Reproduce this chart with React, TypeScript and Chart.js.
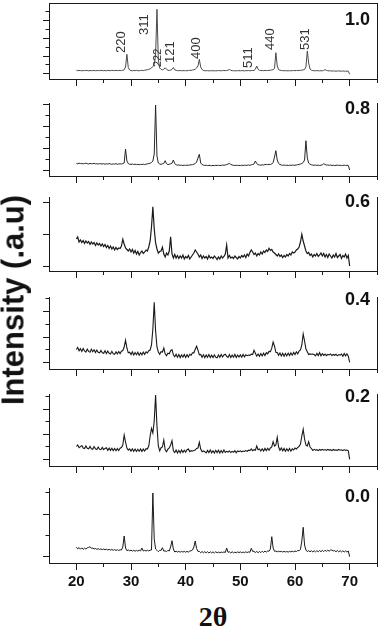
import React, { useEffect, useRef } from "react";
import { Chart, registerables } from "chart.js";

Chart.register(...registerables);

// ---------- categories: 2θ grid (degrees) ----------
const twoTheta: number[] = [
  20, 20.25, 20.5, 20.75, 21, 21.25, 21.5, 21.75, 22, 22.25, 22.5, 22.75, 23, 23.25, 23.5, 23.75, 24, 24.25, 24.5, 24.75,
  25, 25.25, 25.5, 25.75, 26, 26.25, 26.5, 26.75, 27, 27.25, 27.5, 27.75, 28, 28.25, 28.5, 28.75, 29, 29.25, 29.5, 29.75,
  30, 30.25, 30.5, 30.75, 31, 31.25, 31.5, 31.75, 32, 32.25, 32.5, 32.75, 33, 33.25, 33.5, 33.75, 34, 34.25, 34.5, 34.75,
  35, 35.25, 35.5, 35.75, 36, 36.25, 36.5, 36.75, 37, 37.25, 37.5, 37.75, 38, 38.25, 38.5, 38.75, 39, 39.25, 39.5, 39.75,
  40, 40.25, 40.5, 40.75, 41, 41.25, 41.5, 41.75, 42, 42.25, 42.5, 42.75, 43, 43.25, 43.5, 43.75, 44, 44.25, 44.5, 44.75,
  45, 45.25, 45.5, 45.75, 46, 46.25, 46.5, 46.75, 47, 47.25, 47.5, 47.75, 48, 48.25, 48.5, 48.75, 49, 49.25, 49.5, 49.75,
  50, 50.25, 50.5, 50.75, 51, 51.25, 51.5, 51.75, 52, 52.25, 52.5, 52.75, 53, 53.25, 53.5, 53.75, 54, 54.25, 54.5, 54.75,
  55, 55.25, 55.5, 55.75, 56, 56.25, 56.5, 56.75, 57, 57.25, 57.5, 57.75, 58, 58.25, 58.5, 58.75, 59, 59.25, 59.5, 59.75,
  60, 60.25, 60.5, 60.75, 61, 61.25, 61.5, 61.75, 62, 62.25, 62.5, 62.75, 63, 63.25, 63.5, 63.75, 64, 64.25, 64.5, 64.75,
  65, 65.25, 65.5, 65.75, 66, 66.25, 66.5, 66.75, 67, 67.25, 67.5, 67.75, 68, 68.25, 68.5, 68.75, 69, 69.25, 69.5, 69.75,
  70,
];

// ---------- series: intensity (a.u.) per composition ----------
const intensity10: number[] = [
  8.7, 8.3, 8.6, 8.4, 8.2, 8.5, 8.3, 8.6, 8.4, 8.2, 8.5, 8.3, 8.4, 8.6, 8.2, 8.4, 8.5, 8.3, 8.6, 8.4,
  8.3, 8.5, 8.2, 8.6, 8.4, 8.3, 8.7, 8.5, 8.4, 8.6, 8.3, 8.5, 8.6, 8.4, 8.7, 9.2, 12, 24.7, 11.5, 9.0,
  8.4, 8.2, 8.5, 8.3, 8.6, 8.4, 8.2, 8.5, 8.7, 8.4, 8.8, 9.0, 9.3, 9.6, 10.2, 11, 12.5, 14.5, 24, 69.7,
  19, 11, 9.6, 9.2, 9.8, 11.2, 9.6, 8.8, 8.5, 8.9, 9.6, 11.5, 9.2, 8.6, 8.4, 8.3, 8.5, 8.2, 8.4, 8.3,
  8.4, 8.2, 8.5, 8.6, 8.7, 9.0, 9.3, 9.8, 11, 13, 19.7, 12, 9.4, 8.6, 8.3, 8.2, 8.4, 8.1, 8.3, 8.2,
  8.4, 8.1, 8.3, 8.2, 8.5, 8.3, 8.2, 8.4, 8.6, 8.3, 8.5, 8.8, 9.5, 8.7, 8.4, 8.2, 8.3, 8.1, 8.4, 8.3,
  8.2, 8.4, 8.3, 8.1, 8.4, 8.3, 8.5, 8.2, 8.4, 8.6, 8.5, 9.8, 13, 9.6, 8.7, 8.4, 8.5, 8.3, 8.6, 8.4,
  8.5, 8.6, 8.8, 9.0, 9.4, 10.5, 26.3, 13, 9.4, 8.7, 8.5, 8.3, 8.4, 8.2, 8.3, 8.1, 8.4, 8.2, 8.3, 8.5,
  8.3, 8.5, 8.4, 8.6, 8.7, 8.8, 9.1, 9.6, 12, 28, 16, 10, 8.8, 8.5, 8.3, 8.2, 8.4, 8.3, 8.1, 8.3,
  8.2, 8.5, 9.4, 8.6, 8.3, 8.1, 8.2, 7.9, 8.1, 8.0, 7.8, 8.0, 8.1, 7.9, 7.8, 8.0, 7.9, 7.7, 7.9, 7.8,
  4.7,
];

const intensity08: number[] = [
  12.7, 12.2, 12.9, 12.4, 12.6, 12.1, 12.5, 12.8, 12.3, 12.0, 12.6, 12.2, 12.4, 12.7, 12.1, 12.3, 11.9, 12.4, 12.2, 12.0,
  12.3, 11.8, 12.2, 11.9, 12.4, 12.0, 11.7, 12.1, 11.9, 12.3, 11.8, 12.0, 12.2, 11.9, 12.4, 13, 27, 15, 12.4, 11.8,
  11.6, 12.0, 11.5, 11.8, 11.4, 11.7, 11.3, 11.6, 11.5, 11.8, 11.4, 11.9, 12.1, 12.4, 12.8, 13.5, 15, 22, 71, 20,
  13, 12, 11.6, 12.2, 12.5, 15.3, 12.3, 11.4, 11.8, 12.2, 12.8, 16, 12.4, 11.3, 10.8, 11.1, 10.6, 10.9, 10.5, 10.8,
  10.6, 10.9, 10.7, 11.0, 11.2, 11.4, 11.8, 12.5, 14, 18, 21.7, 13, 11.4, 10.9, 10.6, 10.8, 10.4, 10.7, 10.5, 10.3,
  10.6, 10.3, 10.7, 10.5, 10.8, 10.4, 10.6, 11.0, 10.7, 11.1, 11.4, 12.0, 12.5, 11.6, 11.0, 10.7, 10.4, 10.8, 10.5, 10.7,
  10.4, 10.8, 10.5, 10.9, 10.6, 10.8, 11.0, 10.7, 11.2, 11.5, 12.0, 15, 12.5, 11.4, 11.0, 10.8, 11.2, 11.0, 11.4, 11.6,
  11.3, 11.7, 11.5, 12.0, 13.5, 19, 25.3, 16, 12.5, 11.5, 11.0, 10.7, 11.0, 10.6, 10.9, 10.5, 10.8, 10.6, 11.0, 10.7,
  10.8, 11.0, 11.3, 11.6, 12.0, 12.5, 13.5, 16, 35.3, 18, 13, 11.8, 11.2, 10.9, 10.7, 11.0, 10.6, 10.9, 10.5, 10.8,
  11.2, 12.3, 11.5, 10.9, 11.1, 10.7, 10.9, 10.5, 10.8, 10.4, 10.7, 10.9, 10.5, 10.8, 10.4, 10.6, 10.9, 10.5, 10.7, 10.6,
  6,
];

const intensity06: number[] = [
  32, 34, 29, 31, 28.5, 30.5, 27.5, 30, 28, 29.5, 26.5, 29, 27, 28.5, 25.5, 28, 26, 27.5, 25, 27,
  24.5, 26.5, 23.5, 25.5, 22.5, 25, 22, 24, 21, 23.5, 21.5, 23, 22.5, 25, 31.7, 27, 23, 21.5, 20, 22,
  19, 21.5, 18, 20.5, 17, 19.5, 16, 18.5, 20, 17.5, 19, 21, 20, 24, 30, 44, 64.3, 42, 28, 22,
  18, 19.5, 20, 23.7, 17, 14, 18, 16, 20, 34.3, 17, 13, 16.5, 13, 15.5, 12.5, 15, 13, 16, 12,
  14.5, 13, 15.5, 12, 14, 16, 18, 21, 19, 17, 14, 16, 12.5, 15, 13, 14.5, 12, 15.5, 13, 14,
  12.5, 15, 13.5, 11.5, 14, 12, 15, 13, 14.5, 17, 26, 13, 15.5, 13, 14, 12.5, 15, 13.5, 12, 14.5,
  13, 15.5, 14, 16, 13.5, 17, 15, 18.5, 21, 19, 16.5, 18, 15, 17.5, 16, 19, 17, 20, 18.5, 21,
  19.5, 22.7, 20.5, 21.5, 19, 18, 16.5, 15, 17, 14.5, 16, 13.5, 15.5, 14, 16.5, 15, 17.5, 16, 19, 18,
  19, 21, 22, 24, 29, 36.7, 30, 25, 20, 17.5, 18.5, 15.5, 17, 14, 16.5, 15, 17.5, 14.5, 16, 18,
  15, 17.5, 14, 16.5, 13.5, 17, 15, 13, 16, 14, 17.5, 13.5, 15, 16.5, 12.5, 15.5, 14, 17, 13, 15.5,
  5,
];

const intensity04: number[] = [
  19.5, 21.5, 18.2, 20.4, 17.6, 20.6, 18.0, 16.9, 19.9, 17.6, 16.8, 19.7, 17.2, 19.2, 16.4, 18.9, 16.7, 16.1, 18.6, 16.3,
  15.8, 18.3, 15.4, 17.9, 15.7, 15.0, 17.7, 15.3, 14.8, 17.2, 15.1, 17.5, 15.4, 17.8, 18.5, 22, 28.7, 21, 16.2, 16.8,
  14.4, 17.1, 14.0, 16.5, 14.3, 16.8, 13.8, 16.3, 14.2, 16.9, 14.6, 17.1, 16.0, 18.3, 19, 24, 40, 66.7, 38, 22,
  17, 14.7, 17.3, 17.0, 21, 15.2, 13.2, 15.8, 15.2, 18.3, 19.3, 14.2, 12.2, 14.8, 11.7, 14.4, 11.4, 14.2, 11.9, 14.6,
  11.6, 14.3, 12.0, 14.7, 13.7, 16.3, 16.2, 19.8, 22.7, 18.8, 14.2, 14.6, 11.8, 14.2, 11.3, 14.0, 11.7, 14.4, 11.4, 13.8,
  11.5, 14.2, 11.8, 11.3, 14.1, 11.7, 14.5, 12.0, 14.0, 14.8, 12.7, 11.6, 14.4, 11.4, 13.9, 11.8, 14.6, 11.5, 14.0, 11.9,
  14.1, 11.8, 14.6, 12.1, 14.3, 13.3, 14.0, 13.6, 14.8, 14.4, 18.7, 15.8, 12.8, 15.0, 12.7, 15.4, 13.1, 15.8, 13.5, 16.3,
  15.2, 17.6, 17.4, 20.8, 27, 22.8, 16.7, 16.4, 13.7, 16.0, 13.0, 15.7, 12.8, 15.5, 13.1, 15.9, 13.4, 16.1, 13.8, 16.6,
  14.4, 17.2, 15.2, 18.0, 19, 24, 35, 28, 20, 17.3, 14.4, 15.1, 14.8, 14.9, 14.5, 13.1, 15.6, 13.4, 16.3, 13.2,
  15.4, 13.6, 14.9, 13.3, 14.6, 14.1, 15.1, 13.5, 14.5, 13.7, 14.8, 13.2, 14.4, 13.9, 15.0, 12.7, 15.6, 13.1, 15.2, 12.8,
  6.7,
];

const intensity02: number[] = [
  19.5, 21.0, 18.3, 19.4, 20.4, 18.0, 17.4, 20.1, 17.7, 17.1, 19.6, 17.3, 16.8, 19.4, 17.1, 16.5, 19.0, 16.7, 16.3, 18.6,
  16.4, 17.6, 18.3, 15.7, 17.9, 15.6, 17.7, 15.4, 17.5, 15.2, 17.4, 15.5, 17.8, 18.5, 21, 31, 24, 18, 15.9, 17.1,
  14.9, 17.2, 14.7, 17.0, 14.5, 16.8, 14.8, 17.1, 14.6, 16.9, 15.0, 17.3, 17, 20, 30, 37.7, 33, 45, 71, 40,
  20, 15.2, 18.3, 19, 26, 16.2, 14.2, 16.8, 18, 21, 25.3, 15.2, 13.5, 16.0, 13.0, 15.7, 13.3, 16.1, 13.6, 15.8,
  13.8, 16.3, 17, 14.4, 15.3, 14.8, 15.6, 16, 17.5, 18, 23.7, 17, 14.2, 15.0, 14.3, 13.1, 15.6, 13.4, 16.1, 13.2,
  15.3, 13.0, 15.7, 13.4, 15.8, 12.9, 15.4, 13.3, 16.0, 13.6, 14.7, 14.0, 15.1, 13.5, 14.6, 13.8, 15.4, 13.2, 15.1, 14.4,
  15.2, 14.2, 15.0, 14.5, 15.4, 14.7, 15.8, 15.4, 17, 15.2, 16.3, 15.7, 20, 16.2, 17, 15.0, 17.2, 14.9, 17.6, 15.4,
  17.8, 15.7, 18, 19, 24.3, 20, 21, 28.7, 19, 15.7, 18.0, 15.2, 17.6, 14.7, 17.2, 15.1, 17.5, 14.8, 17.1, 16.0,
  18.0, 17.0, 18.5, 19.5, 22, 30, 36.7, 27, 21, 20, 24.3, 19, 17.5, 15.6, 16.6, 15.8, 16.3, 15.4, 16.5, 15.7,
  16.7, 15.8, 16.4, 15.6, 16.6, 15.9, 16.3, 15.4, 16.5, 15.7, 16.2, 15.5, 16.6, 15.8, 16.1, 15.3, 16.4, 15.6, 16.0, 15.2,
  6.7,
];

const intensity00: number[] = [
  15.8, 14.2, 15.4, 13.8, 15.2, 13.6, 14.9, 13.9, 15.2, 15.5, 16.3, 14.7, 14.9, 14.1, 14.5, 13.6, 14.4, 13.5, 14.1, 13.4,
  14.0, 13.3, 13.8, 13.0, 13.7, 12.9, 13.5, 12.7, 13.4, 12.6, 13.3, 12.5, 13.2, 13.0, 16, 27, 15, 12.3, 13.0, 12.2,
  12.9, 11.9, 12.7, 11.8, 12.6, 11.9, 12.8, 12.1, 15, 12.0, 12.7, 11.9, 12.8, 12.0, 12.9, 13, 70, 24, 14, 12.7,
  11.3, 12.7, 12.6, 15.3, 11.9, 12.1, 11.3, 12.7, 12.0, 16, 22.3, 14, 11.0, 11.8, 10.9, 11.6, 10.8, 11.7, 10.9, 11.6,
  10.8, 11.6, 10.9, 11.9, 12.2, 13, 16, 22, 14.5, 11.6, 11.6, 10.3, 11.5, 10.2, 11.4, 10.1, 11.3, 10.0, 11.2, 10.1,
  11.2, 10.0, 11.3, 10.2, 10.9, 10.2, 11.0, 10.4, 11.1, 10.5, 15, 10.7, 11.2, 10.0, 11.3, 10.1, 10.9, 10.2, 11.1, 10.4,
  11.1, 10.3, 11.0, 10.3, 11.2, 10.5, 11.1, 10.7, 14.7, 11.6, 11.7, 10.4, 11.6, 10.3, 11.5, 10.4, 11.8, 10.6, 11.9, 10.9,
  12.0, 11.8, 14, 26.3, 15, 11.7, 12.0, 11.2, 11.8, 11.2, 11.7, 11.0, 11.6, 11.0, 11.5, 10.9, 11.7, 11.1, 11.8, 11.2,
  12.0, 11.4, 12.5, 12.3, 13.5, 22, 35.7, 18, 13, 11.4, 12.4, 11.1, 12.4, 11.0, 12.3, 11.1, 12.4, 11.2, 12.5, 11.3,
  12.6, 11.4, 12.8, 11.6, 12.9, 11.8, 12.9, 13, 12.0, 12.4, 11.3, 12.5, 11.2, 12.3, 11.1, 12.2, 11.0, 12.1, 10.9, 12.0,
  6.3,
];

// ---------- labels ----------
const compositionLabels = ["1.0", "0.8", "0.6", "0.4", "0.2", "0.0"];
const xMajorTicks = [20, 30, 40, 50, 60, 70];
const xMinorTicks = [25, 35, 45, 55, 65, 75];

const yMajorTicks: number[][] = [
  [5.3, 23, 40.7, 58.5],
  [6, 28, 50, 72],
  [5, 36.7, 68.3],
  [6.6, 32, 57.6],
  [6.7, 32, 57],
  [6.3, 49],
];
const yMinorTicks: number[][] = [
  [14.2, 31.9, 49.6, 67.3],
  [17, 39, 61],
  [],
  [19.3, 45, 70.3],
  [19.3, 44.3, 69.6],
  [28, 70.3],
];

// Miller indices annotated on the top pattern
const peakNames = ["220", "311", "222", "121", "400", "511", "440", "531"];
const peakLabelTheta = [28.27, 32.5, 34.9, 37.3, 41.9, 51.4, 55.5, 61.9];
const peakLabelIntensity = [26, 44, 12, 16, 20, 11, 29, 29];

// ---------- layout / style (not data) ----------
const AXIS = "#1a1a1a";
const FONT = '"Liberation Sans", Arial, Helvetica, sans-serif';
const seriesList = [intensity10, intensity08, intensity06, intensity04, intensity02, intensity00];
const panelGeom = [
  { top: 3, axis: 79, padTop: 3, labelAt: 54, color: "#4a4a4a", lw: 1 },
  { top: 103, axis: 176, padTop: 8, labelAt: 62, color: "#262626", lw: 1 },
  { top: 197, axis: 271, padTop: 8, labelAt: 64, color: "#1a1a1a", lw: 1.2 },
  { top: 297, axis: 369, padTop: 8, labelAt: 64, color: "#1a1a1a", lw: 1.1 },
  { top: 394, axis: 466, padTop: 8, labelAt: 64, color: "#1a1a1a", lw: 1.1 },
  { top: 488, axis: 563, padTop: 8, labelAt: 61, color: "#1a1a1a", lw: 1 },
];
const smallPeakLabels = new Set(["222"]);

const textPlugin = {
  id: "panelText",
  afterDraw(chart: any, _args: any, opts: any) {
    const { ctx, chartArea, scales } = chart;
    ctx.save();
    ctx.fillStyle = "#111";
    ctx.font = `bold 18px ${FONT}`;
    ctx.textAlign = "right";
    ctx.textBaseline = "alphabetic";
    ctx.fillText(opts.label, chartArea.right - 7, scales.y.getPixelForValue(opts.labelAt));
    if (opts.peaks) {
      ctx.fillStyle = "#333";
      peakNames.forEach((name, i) => {
        const px = scales.x.getPixelForValue(peakLabelTheta[i]);
        const py = scales.y.getPixelForValue(peakLabelIntensity[i]);
        ctx.save();
        ctx.translate(px, py);
        ctx.rotate(-Math.PI / 2);
        ctx.font = `${smallPeakLabels.has(name) ? 11 : 13}px ${FONT}`;
        ctx.textAlign = "left";
        ctx.textBaseline = "middle";
        ctx.fillText(name, 0, 0);
        ctx.restore();
      });
    }
    ctx.restore();
  },
};

function Panel({ idx }: { idx: number }) {
  const ref = useRef<HTMLCanvasElement>(null);
  const g = panelGeom[idx];
  const H = g.axis - g.top;
  const isLast = idx === panelGeom.length - 1;
  const isFirst = idx === 0;
  const bottomH = isLast ? 32 : 10;
  const canvasH = g.padTop + H + bottomH;

  useEffect(() => {
    const values = seriesList[idx];
    const data = twoTheta.map((x, i) => ({ x, y: values[i] }));
    const scales: any = {
      x: {
        type: "linear",
        position: "bottom",
        min: 15,
        max: 75,
        weight: 1,
        afterBuildTicks: (s: any) => {
          s.ticks = xMajorTicks.map((v) => ({ value: v }));
        },
        afterFit: (s: any) => {
          s.height = bottomH;
        },
        grid: { display: true, drawOnChartArea: false, drawTicks: true, tickLength: 7, tickWidth: 1, tickColor: AXIS },
        border: { display: true, color: AXIS, width: 1 },
        ticks: {
          display: isLast,
          color: "#111",
          padding: 3,
          maxRotation: 0,
          autoSkip: false,
          font: { family: FONT, size: 15, weight: "bold" },
        },
      },
      xm: {
        type: "linear",
        position: "bottom",
        min: 15,
        max: 75,
        weight: 0,
        afterBuildTicks: (s: any) => {
          s.ticks = xMinorTicks.map((v) => ({ value: v }));
        },
        afterFit: (s: any) => {
          s.height = 0;
        },
        grid: { display: true, drawOnChartArea: false, drawTicks: true, tickLength: 4, tickWidth: 1, tickColor: AXIS },
        border: { display: false },
        ticks: { display: false },
      },
      y: {
        type: "linear",
        position: "left",
        min: 0,
        max: H,
        weight: 0,
        afterBuildTicks: (s: any) => {
          s.ticks = yMajorTicks[idx].map((v) => ({ value: v }));
        },
        afterFit: (s: any) => {
          s.width = 0;
        },
        grid: { display: true, drawOnChartArea: false, drawTicks: true, tickLength: 6, tickWidth: 1, tickColor: AXIS },
        border: { display: true, color: AXIS, width: 1 },
        ticks: { display: false },
      },
      ym: {
        type: "linear",
        position: "left",
        min: 0,
        max: H,
        weight: 1,
        display: true,
        afterBuildTicks: (s: any) => {
          s.ticks = yMinorTicks[idx].map((v) => ({ value: v }));
        },
        afterFit: (s: any) => {
          s.width = 0;
        },
        grid: { display: true, drawOnChartArea: false, drawTicks: true, tickLength: 3.5, tickWidth: 1, tickColor: AXIS },
        border: { display: false },
        ticks: { display: false },
      },
      yr: {
        type: "linear",
        position: "right",
        min: 0,
        max: H,
        display: true,
        afterFit: (s: any) => {
          s.width = 0;
        },
        grid: { display: false },
        border: { display: true, color: AXIS, width: 1 },
        ticks: { display: false },
      },
    };
    if (isFirst) {
      scales.xt = {
        type: "linear",
        position: "top",
        min: 15,
        max: 75,
        display: true,
        afterFit: (s: any) => {
          s.height = 0;
        },
        grid: { display: false },
        border: { display: true, color: AXIS, width: 1 },
        ticks: { display: false },
      };
    }
    const chart = new Chart(ref.current as HTMLCanvasElement, {
      type: "line",
      data: {
        datasets: [
          {
            data,
            xAxisID: "x",
            yAxisID: "y",
            borderColor: g.color,
            borderWidth: g.lw,
            pointRadius: 0,
            fill: false,
            tension: 0,
          },
        ],
      },
      options: {
        responsive: false,
        animation: false,
        events: [],
        layout: { padding: { top: g.padTop, left: 49, right: 3, bottom: 0 } },
        scales,
        plugins: {
          legend: { display: false },
          tooltip: { enabled: false },
          title: { display: false },
          panelText: { label: compositionLabels[idx], labelAt: g.labelAt, peaks: isFirst },
        } as any,
      },
      plugins: [textPlugin as any],
    });
    return () => chart.destroy();
  }, []);

  return (
    <canvas
      ref={ref}
      width={380}
      height={canvasH}
      style={{ position: "absolute", left: 0, top: g.top - g.padTop, width: 380, height: canvasH }}
    />
  );
}

export default function App() {
  return (
    <div
      style={{
        position: "absolute",
        left: 0,
        top: 0,
        width: 380,
        height: 628,
        background: "#fff",
        overflow: "hidden",
      }}
    >
      {panelGeom.map((_, i) => (
        <Panel key={i} idx={i} />
      ))}
      <div
        style={{
          position: "absolute",
          left: 13,
          top: 300,
          transform: "translate(-50%, -50%) rotate(-90deg)",
          whiteSpace: "nowrap",
          font: `bold 31px ${FONT}`,
          lineHeight: "31px",
          color: "#111",
        }}
      >
        Intensity (.a.u)
      </div>
      <div
        style={{
          position: "absolute",
          left: 213,
          top: 603,
          transform: "translateX(-50%)",
          whiteSpace: "nowrap",
          font: 'bold 28px "Liberation Serif", "Times New Roman", serif',
          lineHeight: "28px",
          color: "#111",
        }}
      >
        2θ
      </div>
    </div>
  );
}
